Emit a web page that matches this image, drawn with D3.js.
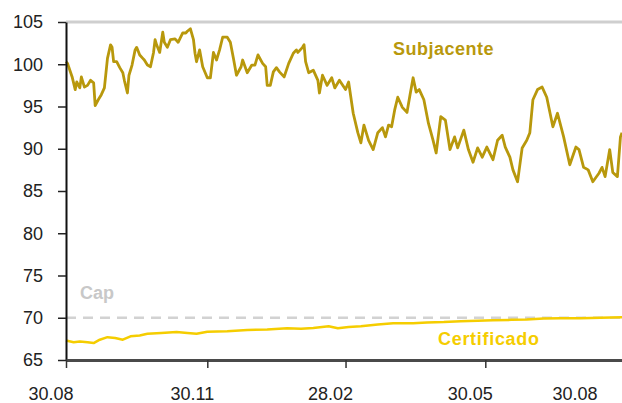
<!DOCTYPE html>
<html>
<head>
<meta charset="utf-8">
<script src="https://cdn.jsdelivr.net/npm/d3@7"></script>
<style>
  body { margin: 0; background: #fff; }
  svg { display: block; font-family: "Liberation Sans", Arial, sans-serif; }
</style>
</head>
<body>
<div id="chart"></div>
<script>
// days counted from 30.08.2010
var startDate = new Date(2010, 7, 30);
var lastDay = 362;

// Subjacente: [day, value]
var subjacente = [
  [0,100.3],[1,100.1],[4,98.5],[6,97.0],[7,97.9],[9,97.2],[10,98.5],[12,97.3],[14,97.5],[16,98.1],
  [18,97.8],[19,95.1],[21,95.8],[23,96.4],[25,97.2],[27,100.7],[29,102.3],[30,102.0],[31,100.3],[33,100.3],
  [35,99.6],[37,99.0],[38,98.1],[40,96.6],[41,98.7],[43,99.9],[45,101.7],[46,102.0],[48,101.1],[50,100.7],
  [51,100.5],[53,99.9],[55,99.7],[57,101.4],[58,102.9],[59,102.3],[61,101.4],[63,103.8],[64,102.6],[66,102.0],
  [68,102.9],[71,103.0],[73,102.6],[76,103.7],[78,103.7],[79,103.9],[81,104.2],[83,102.9],[84,101.3],[85,100.3],
  [87,101.7],[89,99.7],[92,98.4],[94,98.4],[96,101.4],[98,100.5],[100,101.7],[102,103.2],[105,103.2],[107,102.6],
  [109,100.7],[111,98.7],[114,99.7],[115,100.5],[118,99.0],[121,99.9],[123,99.9],[125,101.1],[128,100.1],[130,99.7],
  [131,97.5],[133,97.5],[135,99.1],[137,99.6],[139,99.1],[142,98.5],[145,100.1],[148,101.3],[150,101.7],[151,101.4],
  [154,102.0],[155,102.3],[156,100.3],[158,99.0],[161,99.3],[164,98.1],[165,96.6],[167,98.7],[170,97.5],[173,98.4],
  [175,97.2],[178,98.1],[182,97.0],[184,97.9],[187,94.2],[190,91.9],[192,90.7],[194,92.8],[197,91.0],[200,89.9],
  [203,91.9],[206,92.5],[208,91.4],[210,92.8],[212,92.6],[214,94.6],[216,96.1],[219,94.9],[222,94.3],[224,96.4],
  [226,98.4],[228,96.7],[230,97.0],[233,95.8],[236,93.0],[239,91.0],[241,89.5],[244,93.8],[247,93.4],[250,89.9],
  [253,91.4],[255,90.1],[259,92.2],[262,89.9],[265,88.4],[268,90.1],[271,89.0],[274,90.2],[278,88.7],[281,91.0],
  [284,91.6],[286,90.2],[289,89.0],[291,87.5],[294,86.1],[297,90.1],[300,91.0],[302,91.9],[304,95.8],[307,97.0],
  [310,97.3],[313,96.1],[317,92.6],[320,94.2],[324,91.4],[328,88.1],[332,90.2],[334,89.9],[337,87.8],[340,87.5],
  [343,86.1],[347,87.1],[349,87.8],[351,86.7],[354,89.9],[356,87.2],[359,86.7],[361,91.4],[362,91.9]
];

// Certificado: [day, value]
var certificado = [
  [0,67.3],[5,67.1],[9,67.2],[14,67.1],[18,67.0],[22,67.4],[27,67.7],[32,67.6],[37,67.4],[42,67.8],
  [48,67.9],[53,68.1],[62,68.2],[72,68.3],[79,68.2],[85,68.1],[92,68.35],[105,68.4],[118,68.55],[131,68.6],
  [144,68.75],[153,68.7],[161,68.8],[171,69.0],[177,68.75],[184,68.9],[192,69.0],[203,69.2],[213,69.35],[226,69.35],
  [235,69.45],[246,69.5],[257,69.6],[268,69.65],[278,69.7],[290,69.75],[300,69.8],[311,69.9],[322,69.95],[335,69.95],
  [348,70.0],[362,70.05]
];

var capValue = 70;
var yTicks = [65, 70, 75, 80, 85, 90, 95, 100, 105];
var xTickDates = [new Date(2010, 7, 30), new Date(2010, 10, 30), new Date(2011, 1, 28), new Date(2011, 4, 30), new Date(2011, 7, 30)];
var xTickLabels = ["30.08", "30.11", "28.02", "30.05", "30.08"];

var svgWidth = 622, svgHeight = 403;
var margin = {top: 22, right: 0, bottom: 43, left: 66};
var width = svgWidth - margin.left - margin.right;
var height = svgHeight - margin.top - margin.bottom;

var svg = d3.select("#chart").append("svg")
  .attr("width", svgWidth)
  .attr("height", svgHeight);
var chart = svg.append("g")
  .attr("transform", "translate(" + margin.left + "," + margin.top + ")");

var x = d3.scaleTime()
  .domain([startDate, d3.timeDay.offset(startDate, lastDay)])
  .range([0, width]);
var y = d3.scaleLinear().domain([65, 105]).range([height, 0]);

function toDate(d) { return d3.timeDay.offset(startDate, d[0]); }

// top border line
chart.append("line")
  .attr("x1", 0).attr("x2", width)
  .attr("y1", y(105)).attr("y2", y(105))
  .attr("stroke", "#cfcfcf").attr("stroke-width", 3);

// cap line
chart.append("line")
  .attr("x1", 0).attr("x2", width)
  .attr("y1", y(capValue)).attr("y2", y(capValue))
  .attr("stroke", "#d2d2d2").attr("stroke-width", 2.5)
  .attr("stroke-dasharray", "10,7");

var line = d3.line()
  .x(function(d) { return x(toDate(d)); })
  .y(function(d) { return y(d[1]); });

chart.append("path")
  .datum(certificado)
  .attr("d", line)
  .attr("fill", "none")
  .attr("stroke", "#f5cd00")
  .attr("stroke-width", 2.5)
  .attr("stroke-linejoin", "round");

chart.append("path")
  .datum(subjacente)
  .attr("d", line)
  .attr("fill", "none")
  .attr("stroke", "#b8980c")
  .attr("stroke-width", 2.8)
  .attr("stroke-linejoin", "round");

// y axis
var yAxis = chart.append("g")
  .call(d3.axisLeft(y).tickValues(yTicks).tickSize(8).tickPadding(15).tickSizeOuter(0));
yAxis.select(".domain").attr("stroke", "#111").attr("stroke-width", 2);
yAxis.selectAll(".tick line").attr("stroke", "#222").attr("stroke-width", 1.5);
yAxis.selectAll(".tick text")
  .attr("fill", "#222")
  .style("font-size", "18px");

// x axis
var xAxis = chart.append("g")
  .attr("transform", "translate(0," + height + ")")
  .call(d3.axisBottom(x).tickValues(xTickDates.slice(0, 4)).tickSize(8).tickPadding(19).tickSizeOuter(0));
xAxis.select(".domain").attr("stroke", "#4a4a4a").attr("stroke-width", 3);
xAxis.selectAll(".tick line").attr("stroke", "#333").attr("stroke-width", 1.5);
xAxis.selectAll(".tick text").remove();

chart.selectAll(".xlabel")
  .data(xTickDates)
  .enter()
  .append("text")
  .attr("class", "xlabel")
  .attr("x", function(d) { return Math.min(x(d) - 15, width - 47); })
  .attr("y", height + 40)
  .attr("text-anchor", "middle")
  .attr("fill", "#222")
  .style("font-size", "18px")
  .text(function(d, i) { return xTickLabels[i]; });

// series labels
chart.append("text")
  .attr("x", 327).attr("y", 33)
  .attr("fill", "#b8980c")
  .style("font-size", "18px").style("font-weight", "bold").style("letter-spacing", "0.5px")
  .text("Subjacente");

chart.append("text")
  .attr("x", 14).attr("y", y(capValue) - 19)
  .attr("fill", "#c8c8c8")
  .style("font-size", "18px").style("font-weight", "bold")
  .text("Cap");

chart.append("text")
  .attr("x", 372).attr("y", y(capValue) + 27)
  .attr("fill", "#f5cd00")
  .style("font-size", "18px").style("font-weight", "bold").style("letter-spacing", "0.7px")
  .text("Certificado");
</script>
</body>
</html>
